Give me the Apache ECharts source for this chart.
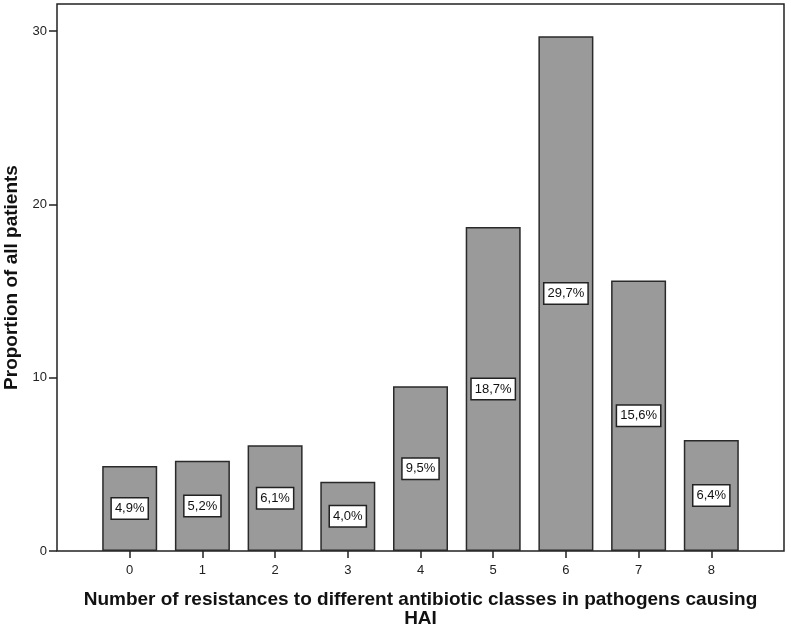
<!DOCTYPE html>
<html>
<head>
<meta charset="utf-8">
<script src="https://cdn.jsdelivr.net/npm/echarts@6/dist/echarts.min.js"></script>
<style>
  html, body { margin: 0; padding: 0; background: #fff; }
  #chart { width: 791px; height: 630px; }
</style>
</head>
<body>
<div id="chart"></div>
<script>
// number of resistances (categories) and share of patients (%)
const categories = ['0', '1', '2', '3', '4', '5', '6', '7', '8'];
const proportions = [4.9, 5.2, 6.1, 4.0, 9.5, 18.7, 29.7, 15.6, 6.4];
const yTicks = [0, 10, 20, 30];

const chart = echarts.init(document.getElementById('chart'));

const yMax = 31.56;
const band = 727 / 10; // frame has half a band of empty room at each side

const option = {
  animation: false,
  backgroundColor: '#fff',
  textStyle: { fontFamily: 'Arial, "Liberation Sans", sans-serif' },
  grid: [
    { // frame
      left: 57, right: 7, top: 4, bottom: 79,
      outerBoundsMode: 'none', containLabel: false,
      show: true, borderColor: '#222', borderWidth: 1.5, backgroundColor: '#fff'
    },
    { // bars
      left: 57 + band / 2, right: 7 + band / 2, top: 4, bottom: 79,
      outerBoundsMode: 'none', containLabel: false
    }
  ],
  xAxis: [
    {
      gridIndex: 0, type: 'value', min: 0, max: 1,
      axisLine: { show: false }, axisTick: { show: false },
      axisLabel: { show: false }, splitLine: { show: false }
    },
    {
      gridIndex: 1, type: 'category', data: categories,
      axisLine: { show: false },
      axisTick: { show: true, alignWithLabel: true, length: 7, lineStyle: { color: '#222', width: 1.5 } },
      axisLabel: { color: '#222', fontSize: 13, margin: 13 },
      name: 'Number of resistances to different antibiotic classes in pathogens causing\nHAI',
      nameLocation: 'middle',
      nameGap: 39,
      nameTextStyle: { fontSize: 19, fontWeight: 'bold', color: '#111', lineHeight: 19 }
    }
  ],
  yAxis: [
    {
      gridIndex: 0, type: 'value', min: 0, max: yMax,
      splitLine: { show: false },
      axisLine: { show: false },
      axisTick: { show: true, customValues: yTicks, length: 8, lineStyle: { color: '#222', width: 1.5 } },
      axisLabel: { customValues: yTicks, color: '#222', fontSize: 13, margin: 10 },
      name: 'Proportion of all patients',
      nameLocation: 'middle',
      nameGap: 35,
      nameTextStyle: { fontSize: 19, fontWeight: 'bold', color: '#111' }
    },
    {
      gridIndex: 1, type: 'value', min: 0, max: yMax,
      axisLine: { show: false }, axisTick: { show: false },
      axisLabel: { show: false }, splitLine: { show: false }
    }
  ],
  series: [{
    type: 'bar',
    xAxisIndex: 1,
    yAxisIndex: 1,
    barWidth: 55,
    data: proportions,
    itemStyle: { color: '#9a9a9a', borderColor: '#2a2a2a', borderWidth: 1.5 },
    label: {
      show: true,
      position: 'inside',
      formatter: p => p.value.toFixed(1).replace('.', ',') + '%',
      color: '#111',
      fontSize: 13,
      backgroundColor: '#fff',
      borderColor: '#222',
      borderWidth: 1.5,
      padding: [4, 3, 3, 3]
    }
  }]
};

chart.setOption(option);
</script>
</body>
</html>
